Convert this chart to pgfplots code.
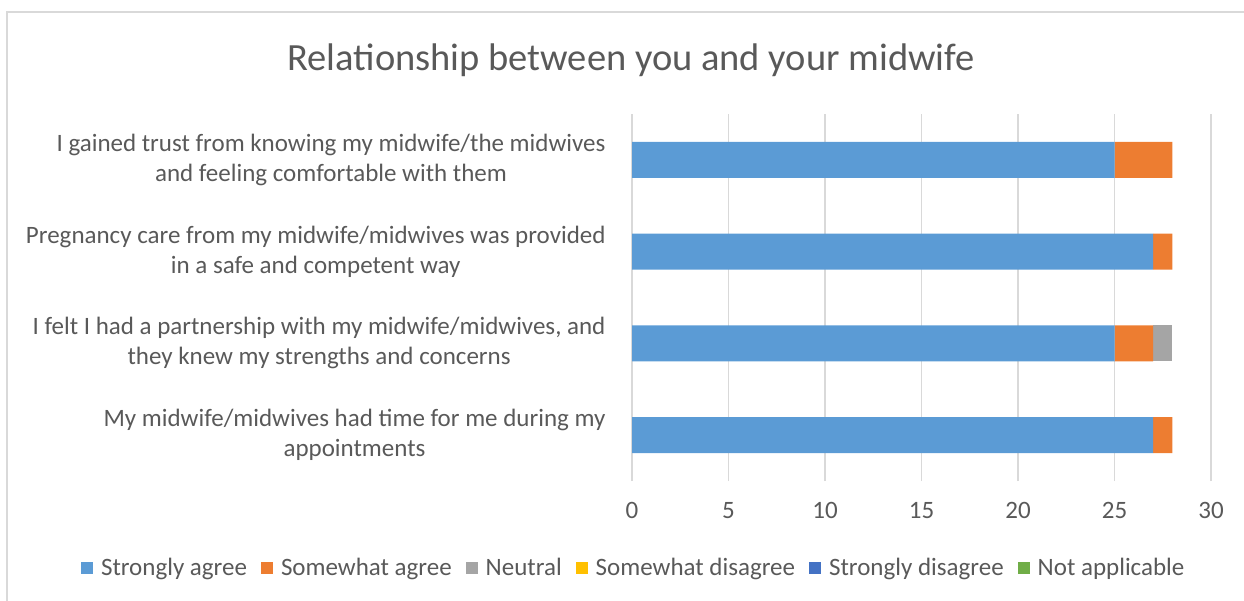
\documentclass[border=0pt]{standalone}
\usepackage{fontspec}
\setmainfont{Carlito}
\usepackage{pgfplots}
\pgfplotsset{compat=1.18}
\definecolor{cSA}{HTML}{5B9BD5}
\definecolor{cSwA}{HTML}{ED7D31}
\definecolor{cN}{HTML}{A5A5A5}
\definecolor{cSwD}{HTML}{FFC000}
\definecolor{cSD}{HTML}{4472C4}
\definecolor{cNA}{HTML}{70AD47}
\definecolor{txt}{HTML}{595959}
\definecolor{grd}{HTML}{D9D9D9}
\begin{document}
\begin{tikzpicture}
\useasboundingbox (0,0) rectangle (1244bp,-601bp);
\draw[grd, line width=1.5bp] (7bp,-601bp) -- (7bp,-12bp) -- (1244bp,-12bp);
\node[text=txt, font=\fontsize{38.5bp}{46bp}\selectfont] at (631bp,-60bp) {Relationship between you and your midwife};
\begin{axis}[
 at={(632bp,-481bp)}, anchor=south west,
 scale only axis, width=579bp, height=367bp,
 xbar stacked, bar width=0.39,
 xmin=0, xmax=30, ymin=-0.5, ymax=3.5,
 xtick={0,5,...,30}, ytick={0,1,2,3},
 yticklabels={{My midwife/midwives had time for me during my\\appointments},
   {I felt I had a partnership with my midwife/midwives, and\\they knew my strengths and concerns},
   {Pregnancy care from my midwife/midwives was provided\\in a safe and competent way},
   {I gained trust from knowing my midwife/the midwives\\and feeling comfortable with them}},
 axis line style={draw=none},
 major tick length=0,
 xmajorgrids, grid style={grd, line width=1.5bp},
 tick label style={text=txt, font=\fontsize{25bp}{30bp}\selectfont},
 yticklabel style={align=center, xshift=-23bp},
 xticklabel style={yshift=-18bp},
 /pgf/number format/assume math mode=true,
 legend style={at={(0.003,-0.237)}, anchor=center, draw=none, fill=none,
   legend columns=6, font=\fontsize{25bp}{30bp}\selectfont, text=txt,
   /tikz/every odd column/.append style={column sep=6bp},
   /tikz/every even column/.append style={column sep=12bp}},
 legend cell align=left,
 legend image code/.code={\fill[#1] (0bp,-6bp) rectangle (12bp,6bp);},
]
\addplot[fill=cSA, draw=none] coordinates {(27,0) (25,1) (27,2) (25,3)};
\addplot[fill=cSwA, draw=none] coordinates {(1,0) (2,1) (1,2) (3,3)};
\addplot[fill=cN, draw=none] coordinates {(0,0) (1,1) (0,2) (0,3)};
\addplot[fill=cSwD, draw=none] coordinates {(0,0) (0,1) (0,2) (0,3)};
\addplot[fill=cSD, draw=none] coordinates {(0,0) (0,1) (0,2) (0,3)};
\addplot[fill=cNA, draw=none] coordinates {(0,0) (0,1) (0,2) (0,3)};
\legend{Strongly agree, Somewhat agree, Neutral, Somewhat disagree, Strongly disagree, Not applicable}
\end{axis}
\end{tikzpicture}
\end{document}
